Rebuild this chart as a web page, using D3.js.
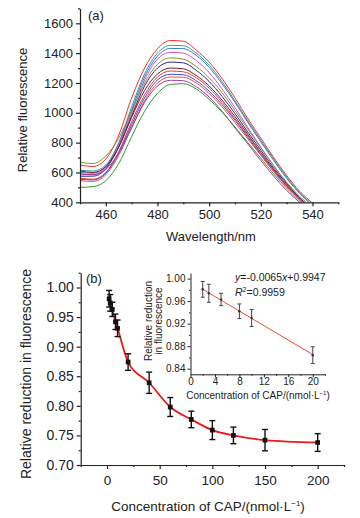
<!DOCTYPE html>
<html>
<head>
<meta charset="utf-8">
<script src="https://cdn.jsdelivr.net/npm/d3@7"></script>
<style>
  body { margin: 0; background: #fff; }
  svg { display: block; font-family: "Liberation Sans", Arial, sans-serif; }
</style>
</head>
<body>
<svg id="chart" width="360" height="518"></svg>
<script>
// ---- data panel (a): spectra ----
const wavelengths = [450, 455, 460, 465, 470, 475, 480, 485, 490, 495, 500, 505, 510, 515, 520, 525, 530, 535, 540];
const spectrumValues = [
  [650, 640, 690, 850, 1100, 1300, 1430, 1485, 1480, 1420, 1340, 1230, 1100, 960, 830, 700, 580, 475, 395],
  [615, 610, 650, 800, 1040, 1260, 1400, 1452, 1450, 1400, 1320, 1210, 1080, 945, 815, 690, 570, 465, 385],
  [600, 595, 640, 790, 1020, 1240, 1380, 1432, 1430, 1385, 1305, 1195, 1070, 935, 805, 680, 560, 460, 380],
  [590, 585, 635, 780, 1000, 1220, 1360, 1405, 1400, 1350, 1270, 1160, 1035, 900, 770, 645, 530, 430, 355],
  [668, 660, 710, 830, 1010, 1200, 1325, 1368, 1360, 1310, 1235, 1135, 1015, 890, 765, 645, 535, 440, 365],
  [575, 575, 625, 770, 980, 1180, 1300, 1340, 1335, 1285, 1210, 1110, 995, 870, 750, 630, 525, 430, 355],
  [610, 600, 640, 770, 970, 1150, 1260, 1300, 1295, 1250, 1180, 1085, 975, 855, 735, 620, 515, 425, 350],
  [560, 555, 600, 740, 940, 1120, 1240, 1280, 1275, 1235, 1165, 1070, 960, 845, 730, 615, 515, 425, 350],
  [555, 550, 595, 730, 920, 1100, 1220, 1258, 1255, 1215, 1145, 1055, 950, 835, 720, 610, 510, 420, 345],
  [545, 540, 585, 715, 900, 1080, 1200, 1240, 1238, 1200, 1130, 1040, 935, 825, 715, 605, 505, 420, 345],
  [590, 585, 620, 730, 900, 1070, 1180, 1218, 1215, 1175, 1105, 1010, 900, 790, 680, 575, 480, 400, 330],
  [500, 505, 545, 660, 840, 1010, 1130, 1190, 1195, 1160, 1090, 1005, 905, 800, 695, 590, 495, 410, 340]
];
const spectrumColors = ["#ff2a2a", "#2e9c9c", "#3b78c8", "#d050d0", "#8f8f2a", "#2a2a90",
                        "#7a1a2a", "#e83a3a", "#3a4fd0", "#f04848", "#a03aa0", "#2e9a2e"];
const aXTicks = [460, 480, 500, 520, 540];
const aYTicks = [400, 600, 800, 1000, 1200, 1400, 1600];

// ---- data panel (b) ----
const conc = [2, 3, 5, 8, 10, 20, 40, 60, 80, 100, 120, 150, 200];
const reduction = [0.981, 0.974, 0.963, 0.942, 0.931, 0.874, 0.839, 0.798, 0.777, 0.759, 0.750, 0.742, 0.738];
const reductionErr = [0.014, 0.014, 0.012, 0.013, 0.014, 0.014, 0.018, 0.016, 0.014, 0.016, 0.014, 0.018, 0.015];
const bXTicks = [0, 50, 100, 150, 200];
const bYTicks = [0.70, 0.75, 0.80, 0.85, 0.90, 0.95, 1.00];

// inset
const insetConc = [2, 3, 5, 8, 10, 20];
const insetReduction = [0.981, 0.974, 0.963, 0.942, 0.930, 0.864];
const insetErr = [0.014, 0.016, 0.011, 0.013, 0.015, 0.015];
const fitConc = [2, 20];
const fitReduction = [0.981, 0.865];
const iXTicks = [0, 4, 8, 12, 16, 20];
const iYTicks = [0.84, 0.88, 0.92, 0.96, 1.00];

const svg = d3.select("#chart");
const axisColor = "#222";

// helper: axes with major + minor ticks
function drawAxes(g, x, y, o) {
  const xa = g.append("g").attr("transform", `translate(0,${y.range()[0]})`)
    .call(d3.axisBottom(x).tickValues(o.xTicks).tickSize(o.tick).tickSizeOuter(0)
      .tickPadding(o.xPad).tickFormat(o.xFmt || (d => d)));
  g.append("g").attr("transform", `translate(0,${y.range()[0]})`)
    .call(d3.axisBottom(x).tickValues(o.xMinor).tickSize(o.tick / 2).tickFormat("").tickSizeOuter(0))
    .select(".domain").remove();
  const ya = g.append("g").attr("transform", `translate(${x.range()[0]},0)`)
    .call(d3.axisLeft(y).tickValues(o.yTicks).tickSize(o.tick).tickSizeOuter(0)
      .tickPadding(o.yPad).tickFormat(o.yFmt || (d => d)));
  g.append("g").attr("transform", `translate(${x.range()[0]},0)`)
    .call(d3.axisLeft(y).tickValues(o.yMinor).tickSize(o.tick / 2).tickFormat("").tickSizeOuter(0))
    .select(".domain").remove();
  g.selectAll(".domain, .tick line").attr("stroke", axisColor).attr("stroke-width", o.lw);
  xa.selectAll("text").attr("font-size", o.xFont).attr("fill", axisColor).attr("font-family", null);
  ya.selectAll("text").attr("font-size", o.yFont).attr("fill", axisColor).attr("font-family", null);
  g.selectAll(".tick text").attr("font-family", null);
  svg.selectAll("g").attr("font-family", null);
}

// ================= Panel (a) =================
const xA = d3.scaleLinear().domain([450, 550]).range([80, 338.3]);
const yA = d3.scaleLinear().domain([400, 1700]).range([202.3, 8.4]);

svg.append("clipPath").attr("id", "clipA").append("rect")
  .attr("x", xA(450)).attr("y", yA(1700)).attr("width", xA(550) - xA(450)).attr("height", yA(400) - yA(1700));

const lineA = d3.line().x((d, i) => xA(wavelengths[i])).y(d => yA(d)).curve(d3.curveMonotoneX);
const gA = svg.append("g");
gA.append("g").attr("clip-path", "url(#clipA)")
  .selectAll("path").data(spectrumValues).join("path")
  .attr("d", lineA)
  .attr("fill", "none")
  .attr("stroke", (d, i) => spectrumColors[i])
  .attr("stroke-width", 1);

drawAxes(gA, xA, yA, {
  xTicks: aXTicks, xMinor: [450, 470, 490, 510, 530, 550],
  yTicks: aYTicks, yMinor: [500, 700, 900, 1100, 1300, 1500, 1700],
  tick: 4, xPad: 3, yPad: 3, xFont: 13, yFont: 13, lw: 1.2
});

svg.append("text").attr("x", 88).attr("y", 20).attr("font-size", 13).attr("fill", axisColor).text("(a)");
svg.append("text").attr("transform", "translate(27,110) rotate(-90)").attr("text-anchor", "middle")
  .attr("font-size", 13).attr("fill", axisColor).text("Relative fluorescence");
svg.append("text").attr("x", 211).attr("y", 241).attr("text-anchor", "middle")
  .attr("font-size", 13).attr("fill", axisColor).text("Wavelength/nm");

// ================= Panel (b) =================
const xB = d3.scaleLinear().domain([-25, 225]).range([80.7, 344]);
const yB = d3.scaleLinear().domain([0.70, 1.025]).range([465, 272.7]);
const gB = svg.append("g");

drawAxes(gB, xB, yB, {
  xTicks: bXTicks, xMinor: [-25, 25, 75, 125, 175, 225],
  yTicks: bYTicks, yMinor: [0.725, 0.775, 0.825, 0.875, 0.925, 0.975, 1.025],
  tick: 4, xPad: 6, yPad: 3, xFont: 13.5, yFont: 14, lw: 1.2,
  yFmt: d3.format(".2f")
});

const lineB = d3.line().x((d, i) => xB(conc[i])).y(d => yB(d)).curve(d3.curveMonotoneX);
gB.append("path").datum(reduction).attr("d", lineB)
  .attr("fill", "none").attr("stroke", "#f01818").attr("stroke-width", 1.8);

const errB = gB.append("g").attr("stroke", "#111").attr("stroke-width", 1.4);
conc.forEach((c, i) => {
  const x = xB(c), y0 = yB(reduction[i] - reductionErr[i]), y1 = yB(reduction[i] + reductionErr[i]);
  errB.append("line").attr("x1", x).attr("x2", x).attr("y1", y0).attr("y2", y1);
  errB.append("line").attr("x1", x - 3).attr("x2", x + 3).attr("y1", y0).attr("y2", y0);
  errB.append("line").attr("x1", x - 3).attr("x2", x + 3).attr("y1", y1).attr("y2", y1);
});
gB.selectAll(".pt").data(reduction).join("path").attr("class", "pt")
  .attr("transform", (d, i) => `translate(${xB(conc[i])},${yB(d)})`)
  .attr("d", d3.symbol(d3.symbolSquare, 22))
  .attr("fill", "#111");

svg.append("text").attr("x", 86).attr("y", 283).attr("font-size", 13).attr("fill", axisColor).text("(b)");
svg.append("text").attr("transform", "translate(31,374) rotate(-90)").attr("text-anchor", "middle")
  .attr("font-size", 14).attr("fill", axisColor).text("Relative reduction in fluorescence");
const bt = svg.append("text").attr("x", 208).attr("y", 511).attr("text-anchor", "middle")
  .attr("font-size", 13.5).attr("fill", axisColor);
bt.append("tspan").text("Concentration of CAP/(nmol·L");
bt.append("tspan").attr("font-size", 8).attr("dy", -5).text("−1");
bt.append("tspan").attr("dy", 5).text(")");

// ================= Inset =================
const xI = d3.scaleLinear().domain([0, 22]).range([190.5, 325]);
const yI = d3.scaleLinear().domain([0.83, 1.01]).range([374.3, 273]);
const gI = svg.append("g");

drawAxes(gI, xI, yI, {
  xTicks: iXTicks, xMinor: [2, 6, 10, 14, 18, 22],
  yTicks: iYTicks, yMinor: [0.86, 0.90, 0.94, 0.98],
  tick: 3, xPad: 1, yPad: 2, xFont: 10, yFont: 10, lw: 1,
  yFmt: d3.format(".2f")
});

const lineI = d3.line().x((d, i) => xI(fitConc[i])).y(d => yI(d));
gI.append("path").datum(fitReduction).attr("d", lineI)
  .attr("fill", "none").attr("stroke", "#f04a30").attr("stroke-width", 1);

const errI = gI.append("g").attr("stroke", "#444").attr("stroke-width", 1);
insetConc.forEach((c, i) => {
  const x = xI(c), y0 = yI(insetReduction[i] - insetErr[i]), y1 = yI(insetReduction[i] + insetErr[i]);
  errI.append("line").attr("x1", x).attr("x2", x).attr("y1", y0).attr("y2", y1);
  errI.append("line").attr("x1", x - 2).attr("x2", x + 2).attr("y1", y0).attr("y2", y0);
  errI.append("line").attr("x1", x - 2).attr("x2", x + 2).attr("y1", y1).attr("y2", y1);
});
gI.selectAll(".ipt").data(insetReduction).join("circle").attr("class", "ipt")
  .attr("cx", (d, i) => xI(insetConc[i])).attr("cy", d => yI(d)).attr("r", 1.2).attr("fill", "#333");

svg.append("text").attr("transform", "translate(152,321) rotate(-90)").attr("text-anchor", "middle")
  .attr("font-size", 10).attr("fill", axisColor).text("Relative reduction");
svg.append("text").attr("transform", "translate(162,321) rotate(-90)").attr("text-anchor", "middle")
  .attr("font-size", 10).attr("fill", axisColor).text("in fluorescence");
const it = svg.append("text").attr("x", 258).attr("y", 399).attr("text-anchor", "middle")
  .attr("font-size", 10).attr("fill", axisColor);
it.append("tspan").text("Concentration of CAP/(nmol·L");
it.append("tspan").attr("font-size", 6).attr("dy", -4).text("−1");
it.append("tspan").attr("dy", 4).text(")");

const eq = svg.append("text").attr("x", 235).attr("y", 281).attr("font-size", 10.5).attr("fill", axisColor);
eq.append("tspan").attr("font-style", "italic").text("y");
eq.append("tspan").text("=-0.0065");
eq.append("tspan").attr("font-style", "italic").text("x");
eq.append("tspan").text("+0.9947");
const r2 = svg.append("text").attr("x", 235).attr("y", 296).attr("font-size", 10.5).attr("fill", axisColor);
r2.append("tspan").attr("font-style", "italic").text("R");
r2.append("tspan").attr("font-size", 7).attr("dy", -4).text("2");
r2.append("tspan").attr("dy", 4).text("=0.9959");
</script>
</body>
</html>
